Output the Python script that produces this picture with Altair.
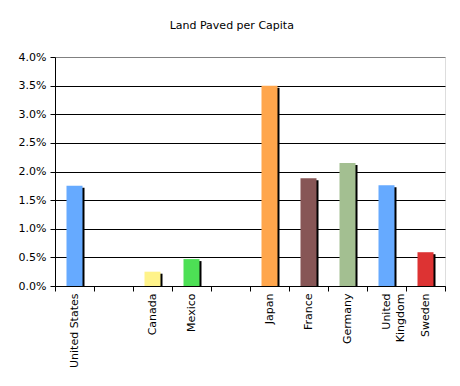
import altair as alt
import pandas as pd

categories = ["United States", " ", "Canada", "Mexico", "  ", "Japan",
              "France", "Germany", "United Kingdom", "Sweden"]
countries = ["United States", "Canada", "Mexico", "Japan", "France",
             "Germany", "United Kingdom", "Sweden"]
values = [0.0175, 0.0025, 0.0047, 0.0350, 0.0188, 0.0215, 0.0176, 0.0059]
colors = ["#66AAFF", "#FFF38A", "#4DE055", "#FFA64C", "#875656",
          "#A3BF91", "#66AAFF", "#DD3333"]
y_ticks = [0.0, 0.005, 0.01, 0.015, 0.02, 0.025, 0.03, 0.035, 0.04]

df = pd.DataFrame({"country": countries, "value": values, "color": colors})

FONT = "DejaVu Sans"

x_enc = alt.X(
    "country:N",
    sort=categories,
    scale=alt.Scale(domain=categories, paddingInner=0, paddingOuter=0),
    axis=alt.Axis(
        title=None,
        labelAngle=-90,
        labelAlign="right",
        labelBaseline="middle",
        labelExpr="datum.label == 'United Kingdom' ? ['United', 'Kingdom'] : datum.label",
        labelLineHeight=14,
        tickBand="extent",
        tickSize=5,
        labelPadding=2,
        labelFont=FONT,
        labelFontSize=11,
        labelColor="black",
        domainColor="black",
        tickColor="black",
        grid=False,
    ),
)

y_enc = alt.Y(
    "value:Q",
    scale=alt.Scale(domain=[0, 0.04], nice=False, zero=True),
    axis=alt.Axis(
        title=None,
        values=y_ticks,
        format=".1%",
        grid=True,
        gridColor=alt.condition("datum.value >= 0.0399", alt.value("#808080"), alt.value("black")),
        gridOpacity=1,
        tickSize=5,
        labelPadding=4,
        labelFont=FONT,
        labelFontSize=11,
        labelColor="black",
        domainColor="black",
        tickColor="black",
    ),
)

shadow = alt.Chart(df).mark_bar(
    color="black", size=16, xOffset=2, yOffset=2, clip=True
).encode(x=x_enc, y=y_enc)

bars = alt.Chart(df).mark_bar(size=16).encode(
    x=x_enc,
    y=y_enc,
    color=alt.Color("color:N", scale=None),
)

chart = alt.layer(shadow, bars).properties(
    width=390,
    height=229,
    title=alt.TitleParams(
        "Land Paved per Capita",
        font=FONT,
        fontSize=11,
        fontWeight="normal",
        color="black",
        anchor="middle",
        frame="bounds",
        baseline="alphabetic",
        offset=11,
    ),
    autosize=alt.AutoSizeParams(type="none"),
    padding={"left": 47, "top": 49, "right": 7, "bottom": 92},
).configure_view(
    fill="#CCCCCC", stroke="#808080", strokeWidth=1
).configure(background="white")

chart.save("out.html", embed_options={"renderer": "svg", "actions": False})
